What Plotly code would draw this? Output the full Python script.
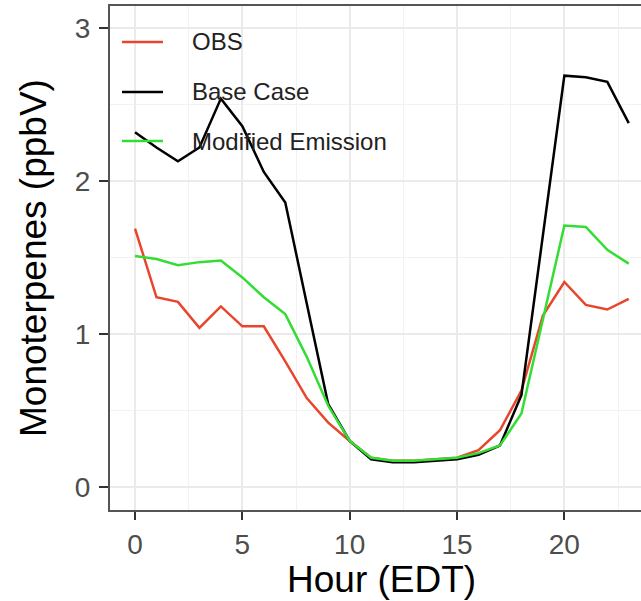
import plotly.graph_objects as go

# Diurnal monoterpene mixing ratios by hour of day (EDT)
hours = list(range(24))
obs = [1.69, 1.24, 1.21, 1.04, 1.18, 1.05, 1.05, 0.82, 0.58, 0.42, 0.30, 0.19,
       0.17, 0.17, 0.18, 0.19, 0.24, 0.37, 0.63, 1.12, 1.34, 1.19, 1.16, 1.23]
base_case = [2.32, 2.22, 2.13, 2.22, 2.54, 2.36, 2.06, 1.86, 1.20, 0.54, 0.30, 0.18,
             0.16, 0.16, 0.17, 0.18, 0.21, 0.27, 0.60, 1.65, 2.69, 2.68, 2.65, 2.38]
modified = [1.51, 1.49, 1.45, 1.47, 1.48, 1.37, 1.24, 1.13, 0.85, 0.53, 0.30, 0.19,
            0.17, 0.17, 0.18, 0.19, 0.22, 0.27, 0.48, 1.10, 1.71, 1.70, 1.55, 1.46]

series_names = ["OBS", "Base Case", "Modified Emission"]
series_values = [obs, base_case, modified]
series_colors = ["#E8452C", "#000000", "#33DD33"]

x_ticks = [0, 5, 10, 15, 20]
y_ticks = [0, 1, 2, 3]

FONT = "Liberation Sans, Arial, Helvetica, sans-serif"

fig = go.Figure()
for name, vals, col in zip(series_names, series_values, series_colors):
    fig.add_trace(go.Scatter(x=hours, y=vals, mode="lines", name=name,
                             line=dict(color=col, width=2.5), showlegend=False))

# Legend drawn inside the panel, top-left
legend_rows = [0.9286, 0.8294, 0.7321]
for name, col, yy in zip(series_names, series_colors, legend_rows):
    fig.add_shape(type="line", xref="paper", yref="paper",
                  x0=0.0226, x1=0.0998, y0=yy, y1=yy,
                  line=dict(color=col, width=2.5))
    fig.add_annotation(text=name, xref="paper", yref="paper", x=0.1507, y=yy,
                       xanchor="left", yanchor="middle", showarrow=False,
                       font=dict(family=FONT, size=24, color="#222222"))

# Axis titles
fig.add_annotation(text="Hour (EDT)", xref="paper", yref="paper", x=0.5122, y=0,
                   yshift=-69, xanchor="center", yanchor="middle", showarrow=False,
                   font=dict(family=FONT, size=37, color="#000000"))
fig.add_annotation(text="Monoterpenes (ppbV)", xref="paper", yref="paper", x=0, y=0.5,
                   xshift=-77, textangle=-90, xanchor="center", yanchor="middle",
                   showarrow=False, font=dict(family=FONT, size=37, color="#000000"))

grid_major = "#EBEBEB"
fig.update_xaxes(range=[-1.165, 23.57], tickvals=x_ticks,
                 showgrid=True, gridcolor=grid_major, gridwidth=2,
                 minor=dict(tickvals=[2.5, 7.5, 12.5, 17.5, 22.5], showgrid=True,
                            gridcolor="#F2F2F2", gridwidth=1, ticks=""),
                 zeroline=False, showline=True, mirror=True, linecolor="#555555",
                 linewidth=2, ticks="outside", ticklen=8, tickwidth=2,
                 tickcolor="#333333", ticklabelstandoff=0,
                 tickfont=dict(family=FONT, size=28, color="#4D4D4D"))
fig.update_yaxes(range=[-0.152, 3.146], tickvals=y_ticks,
                 showgrid=True, gridcolor=grid_major, gridwidth=2,
                 minor=dict(tickvals=[0.5, 1.5, 2.5], showgrid=True,
                            gridcolor="#F2F2F2", gridwidth=1, ticks=""),
                 zeroline=False, showline=True, linecolor="#555555", linewidth=2,
                 ticks="outside", ticklen=9, tickwidth=2, tickcolor="#333333",
                 ticklabelstandoff=3,
                 tickfont=dict(family=FONT, size=28, color="#4D4D4D"))

fig.update_layout(width=641, height=601,
                  margin=dict(l=110, r=0, t=6, b=91),
                  paper_bgcolor="white", plot_bgcolor="white",
                  showlegend=False)

fig.write_html("out.html")
